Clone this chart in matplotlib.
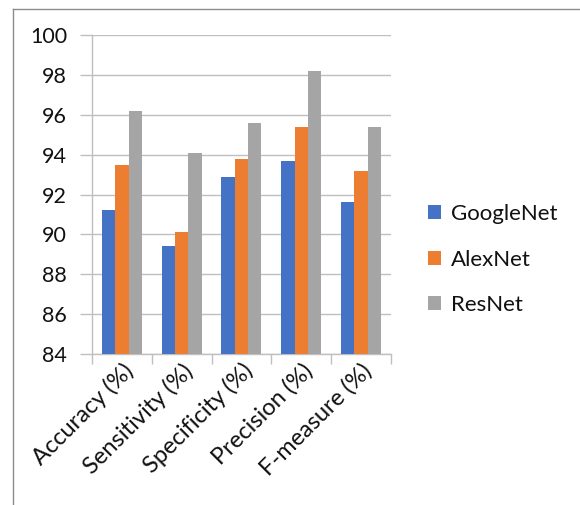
import matplotlib
matplotlib.use("Agg")
import matplotlib.pyplot as plt
from matplotlib.lines import Line2D
import numpy as np

categories = ["Accuracy (%)", "Sensitivity (%)", "Specificity (%)", "Precision (%)", "F-measure (%)"]
googlenet = [91.2, 89.4, 92.9, 93.7, 91.6]
alexnet = [93.5, 90.1, 93.8, 95.4, 93.2]
resnet = [96.2, 94.1, 95.6, 98.2, 95.4]
series_names = ["GoogleNet", "AlexNet", "ResNet"]
colors = ["#4472C4", "#ED7D31", "#A5A5A5"]
y_ticks = [84, 86, 88, 90, 92, 94, 96, 98, 100]

plt.rcParams["font.family"] = ["Lato", "DejaVu Sans"]

fig = plt.figure(figsize=(5.8, 5.05), dpi=100)
ax = fig.add_axes([0.1586, 0.299, 0.5155, 0.6317])

x = np.arange(len(categories))
width = 0.223
for i, (vals, name, col) in enumerate(zip([googlenet, alexnet, resnet], series_names, colors)):
    ax.bar(x + (i - 1) * width, vals, width=width, color=col, label=name, zorder=3)

ax.set_ylim(84, 100)
ax.set_xlim(-0.5, len(categories) - 0.5)
ax.set_yticks(y_ticks)
ax.set_yticklabels([str(t) for t in y_ticks], fontsize=15.5, color="#111111")
ax.yaxis.grid(True, color="#BFBFBF", linewidth=1.0, zorder=0)
ax.set_axisbelow(True)

# category labels at centers, tick marks at group boundaries
ax.set_xticks(x)
ax.set_xticklabels(categories, fontsize=17, rotation=45, ha="right", rotation_mode="anchor",
                   color="#111111")
ax.tick_params(axis="x", which="major", length=0, pad=4)
ax.set_xticks(np.arange(-0.5, len(categories)), minor=True)
ax.tick_params(axis="x", which="minor", length=7, color="#BFBFBF", width=1.0)
ax.tick_params(axis="y", length=9, color="#BFBFBF", width=1.0, pad=9)

for side in ["top", "right"]:
    ax.spines[side].set_visible(False)
for side in ["left", "bottom"]:
    ax.spines[side].set_color("#BFBFBF")
    ax.spines[side].set_linewidth(1.0)

handles, labels = ax.get_legend_handles_labels()
leg = fig.legend(handles, labels, loc="center left", bbox_to_anchor=(0.703, 0.486),
                 frameon=False, fontsize=16, handlelength=0.6, handleheight=0.6,
                 handletextpad=0.45, labelspacing=1.15)
for t in leg.get_texts():
    t.set_color("#111111")

# outer frame lines along the top and left edges
fig.add_artist(Line2D([13 / 580, 13 / 580], [0, 1 - 8.5 / 505], color="#8C8C8C", linewidth=1.0, transform=fig.transFigure))
fig.add_artist(Line2D([13 / 580, 1], [1 - 8.5 / 505, 1 - 8.5 / 505], color="#8C8C8C", linewidth=1.0, transform=fig.transFigure))

fig.savefig("out.png", dpi=100)
